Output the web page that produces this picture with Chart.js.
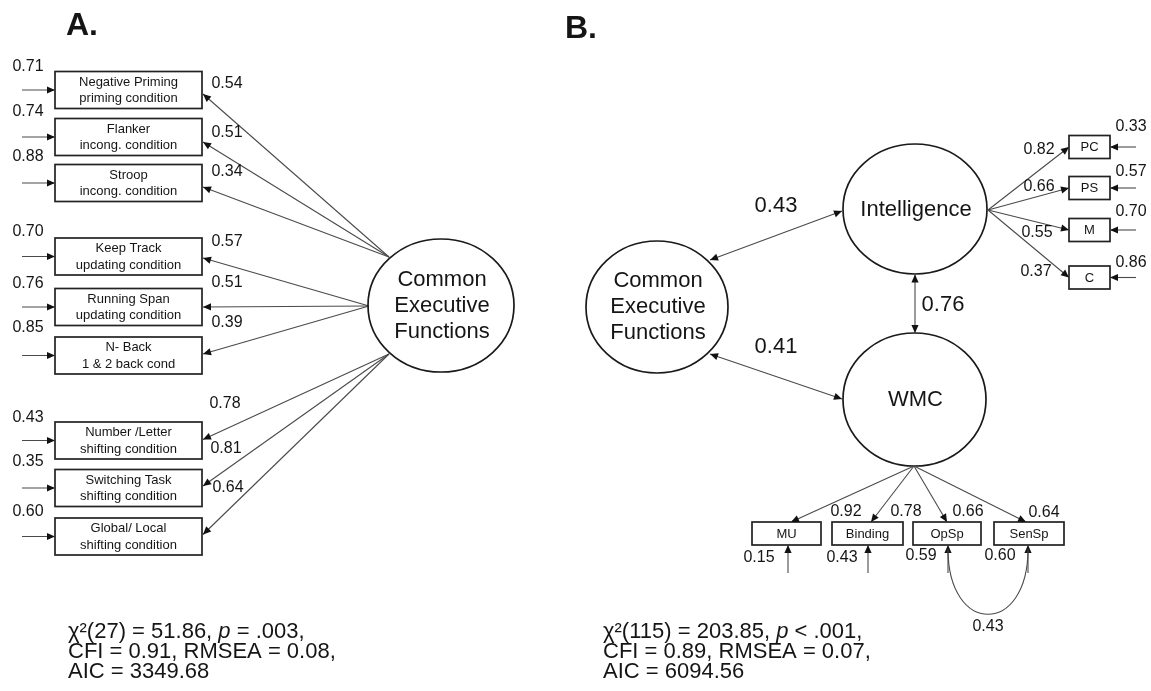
<!DOCTYPE html>
<html>
<head>
<meta charset="utf-8">
<script src="https://cdn.jsdelivr.net/npm/chart.js@4/dist/chart.umd.min.js"></script>
<style>
  html, body { margin: 0; padding: 0; background: #fff; overflow: hidden; }
  #wrap { width: 1151px; height: 691px; }
  canvas { display: block; }
</style>
</head>
<body>
<div id="wrap"><canvas id="sem" width="1151" height="691"></canvas></div>
<script>
// ---- Model A: single common executive functions factor ----
const taskNames = ['Negative Priming', 'Flanker', 'Stroop', 'Keep Track', 'Running Span',
                   'N- Back', 'Number /Letter', 'Switching Task', 'Global/ Local'];
const taskConditions = ['priming condition', 'incong. condition', 'incong. condition',
                        'updating condition', 'updating condition', '1 & 2 back cond',
                        'shifting condition', 'shifting condition', 'shifting condition'];
const taskLoadings = [0.54, 0.51, 0.34, 0.57, 0.51, 0.39, 0.78, 0.81, 0.64];
const taskErrors   = [0.71, 0.74, 0.88, 0.70, 0.76, 0.85, 0.43, 0.35, 0.60];
const fitLinesA = [['χ²(27) = 51.86, ', 'p', ' = .003,'], ['CFI = 0.91, RMSEA = 0.08,'], ['AIC = 3349.68']];

// ---- Model B: CEF, intelligence and working memory capacity ----
const latentNames = ['Common\nExecutive\nFunctions', 'Intelligence', 'WMC'];
const latentCorrelations = [0.43, 0.41, 0.76]; // CEF–Intelligence, CEF–WMC, Intelligence–WMC
const intelligenceIndicators = ['PC', 'PS', 'M', 'C'];
const intelligenceLoadings = [0.82, 0.66, 0.55, 0.37];
const intelligenceErrors   = [0.33, 0.57, 0.70, 0.86];
const wmcIndicators = ['MU', 'Binding', 'OpSp', 'SenSp'];
const wmcLoadings = [0.92, 0.78, 0.66, 0.64];
const wmcErrors   = [0.15, 0.43, 0.59, 0.60];
const residualCovariance = 0.43; // OpSp with SenSp
const fitLinesB = [['χ²(115) = 203.85, ', 'p', ' < .001,'], ['CFI = 0.89, RMSEA = 0.07,'], ['AIC = 6094.56']];

// ---- Layout (drawing frame units: 1151 x 691, y downward) ----
const FONT = '"Liberation Sans", Arial, Helvetica, sans-serif';
const INK = '#151515';
const PATH = '#4a4a4a';

const taskBox = { x0: 55, x1: 202, h: 37 };
const taskCenterY = [90, 137, 183, 256.5, 307, 355.5, 440.5, 488, 536.5];
const taskHeadDy = [4, 5, 4, 1.5, 0, -1.5, -1, -2, -2];
const taskGroup = [0, 0, 0, 1, 1, 1, 2, 2, 2];
const cefAnchorsA = [[389, 257], [369, 306], [389, 354]];
const taskLoadingPos = [[227, 84], [227, 133], [227, 172], [227, 242], [227, 283], [227, 323],
                        [225, 404], [226, 449], [228, 488]];
const taskErrorLabelY = [67, 112, 157, 232, 284, 328, 418, 462, 512];

const ellCefA  = [441, 305.5, 73, 66.5, 0];
const ellCefB  = [657, 307, 71, 66, 0];
const ellIntel = [915, 209, 72, 65, 1];
const ellWmc   = [914.5, 399.5, 71.5, 66.5, 0];

const intelBox = { x0: 1069, x1: 1110, h: 23 };
const intelCenterY = [147, 188, 230, 277.5];
const intelLoadingPos = [[1039, 150], [1039, 187], [1037, 233], [1036, 272]];
const intelErrorPos = [[1131, 127], [1131, 172], [1131, 212], [1131, 263]];

const wmcBox = { y0: 522, y1: 545 };
const wmcBoxX = [[752, 821], [832, 903], [913, 981], [994, 1064]];
const wmcHeadX = [791, 871, 947, 1026];
const wmcErrX = [788, 868, 948, 1028];
const wmcLoadingPos = [[846, 512], [906, 512], [968, 512], [1044, 513]];
const wmcErrorPos = [[759, 558], [842, 558], [921, 556], [1000, 556]];

const semDiagram = {
  id: 'semDiagram',
  afterDraw(chart) {
    const { ctx, scales } = chart;
    const X = v => scales.x.getPixelForValue(v);
    const Y = v => scales.y.getPixelForValue(v);
    const fmt = v => v.toFixed(2);

    const text = (s, x, y, size, opt = {}) => {
      ctx.save();
      ctx.font = `${opt.bold ? 'bold ' : ''}${size}px ${FONT}`;
      ctx.fillStyle = INK;
      ctx.textAlign = opt.align || 'center';
      ctx.textBaseline = 'middle';
      ctx.fillText(s, X(x), Y(y));
      ctx.restore();
    };

    const head = (x1, y1, x2, y2) => {
      const a = Math.atan2(Y(y2) - Y(y1), X(x2) - X(x1));
      const L = 8, w = 3.6;
      ctx.save();
      ctx.fillStyle = '#111';
      ctx.beginPath();
      ctx.moveTo(X(x2), Y(y2));
      ctx.lineTo(X(x2) - L * Math.cos(a) + w * Math.sin(a), Y(y2) - L * Math.sin(a) - w * Math.cos(a));
      ctx.lineTo(X(x2) - L * Math.cos(a) - w * Math.sin(a), Y(y2) - L * Math.sin(a) + w * Math.cos(a));
      ctx.closePath();
      ctx.fill();
      ctx.restore();
    };

    const arrow = (x1, y1, x2, y2, both = false) => {
      ctx.save();
      ctx.strokeStyle = PATH;
      ctx.lineWidth = 1.1;
      ctx.beginPath();
      ctx.moveTo(X(x1), Y(y1));
      ctx.lineTo(X(x2), Y(y2));
      ctx.stroke();
      ctx.restore();
      head(x1, y1, x2, y2);
      if (both) head(x2, y2, x1, y1);
    };

    const rect = (x0, y0, x1, y1) => {
      ctx.save();
      ctx.strokeStyle = '#222';
      ctx.lineWidth = 1.7;
      ctx.strokeRect(X(x0), Y(y0), X(x1) - X(x0), Y(y1) - Y(y0));
      ctx.restore();
    };

    const ellipse = ([cx, cy, rx, ry, dy], label, size) => {
      ctx.save();
      ctx.strokeStyle = '#1a1a1a';
      ctx.lineWidth = 1.7;
      ctx.beginPath();
      ctx.ellipse(X(cx), Y(cy), Math.abs(X(cx + rx) - X(cx)), Math.abs(Y(cy + ry) - Y(cy)), 0, 0, Math.PI * 2);
      ctx.stroke();
      ctx.restore();
      const lines = label.split('\n');
      const lh = 26;
      lines.forEach((ln, i) => text(ln, cx + 1, cy + dy + (i - (lines.length - 1) / 2) * lh, size));
    };

    // fit statistics: odd segments are italic
    const fitBlock = (lines, x, y0) => {
      ctx.save();
      ctx.fillStyle = INK;
      ctx.textBaseline = 'middle';
      ctx.textAlign = 'left';
      lines.forEach((segs, i) => {
        let cx = X(x);
        segs.forEach((s, j) => {
          ctx.font = `${j % 2 ? 'italic ' : ''}22px ${FONT}`;
          ctx.fillText(s, cx, Y(y0 + i * 20));
          cx += ctx.measureText(s).width;
        });
      });
      ctx.restore();
    };

    // Panel titles
    text('A.', 82, 26, 32, { bold: true });
    text('B.', 581, 29, 32, { bold: true });

    // ---- Model A ----
    taskNames.forEach((name, i) => {
      const cy = taskCenterY[i];
      rect(taskBox.x0, cy - taskBox.h / 2, taskBox.x1, cy + taskBox.h / 2);
      text(name, (taskBox.x0 + taskBox.x1) / 2, cy - 8, 13);
      text(taskConditions[i], (taskBox.x0 + taskBox.x1) / 2, cy + 8.5, 13);
      // residual
      arrow(22, cy, taskBox.x0, cy);
      text(fmt(taskErrors[i]), 28, taskErrorLabelY[i], 16);
      // loading
      const [ax, ay] = cefAnchorsA[taskGroup[i]];
      arrow(ax, ay, taskBox.x1 + 1, cy + taskHeadDy[i]);
      text(fmt(taskLoadings[i]), taskLoadingPos[i][0], taskLoadingPos[i][1], 16);
    });
    ellipse(ellCefA, latentNames[0], 22);
    fitBlock(fitLinesA, 68, 632);

    // ---- Model B ----
    ellipse(ellCefB, latentNames[0], 22);
    ellipse(ellIntel, latentNames[1], 22);
    ellipse(ellWmc, latentNames[2], 22);

    arrow(710, 260, 842, 211, true);
    text(fmt(latentCorrelations[0]), 776, 206, 22);
    arrow(710, 354, 842, 399, true);
    text(fmt(latentCorrelations[1]), 776, 347, 22);
    arrow(915, 274.5, 915, 333, true);
    text(fmt(latentCorrelations[2]), 943, 305, 22);

    intelligenceIndicators.forEach((name, i) => {
      const cy = intelCenterY[i];
      rect(intelBox.x0, cy - intelBox.h / 2, intelBox.x1, cy + intelBox.h / 2);
      text(name, (intelBox.x0 + intelBox.x1) / 2, cy + 0.5, 13);
      arrow(988, 210, intelBox.x0, cy);
      text(fmt(intelligenceLoadings[i]), intelLoadingPos[i][0], intelLoadingPos[i][1], 16);
      arrow(1136, cy, intelBox.x1, cy);
      text(fmt(intelligenceErrors[i]), intelErrorPos[i][0], intelErrorPos[i][1], 16);
    });

    wmcIndicators.forEach((name, i) => {
      const [x0, x1] = wmcBoxX[i];
      rect(x0, wmcBox.y0, x1, wmcBox.y1);
      text(name, (x0 + x1) / 2, (wmcBox.y0 + wmcBox.y1) / 2 + 0.5, 13);
      arrow(914, 466, wmcHeadX[i], wmcBox.y0);
      text(fmt(wmcLoadings[i]), wmcLoadingPos[i][0], wmcLoadingPos[i][1], 16);
      arrow(wmcErrX[i], 573, wmcErrX[i], wmcBox.y1);
      text(fmt(wmcErrors[i]), wmcErrorPos[i][0], wmcErrorPos[i][1], 16);
    });

    // correlated residuals of OpSp and SenSp
    ctx.save();
    ctx.strokeStyle = PATH;
    ctx.lineWidth = 1.1;
    ctx.beginPath();
    ctx.moveTo(X(wmcErrX[2]), Y(wmcBox.y1 + 4));
    ctx.bezierCurveTo(X(wmcErrX[2]), Y(636), X(wmcErrX[3]), Y(636), X(wmcErrX[3]), Y(wmcBox.y1 + 4));
    ctx.stroke();
    ctx.restore();
    text(fmt(residualCovariance), 988, 627, 16);

    fitBlock(fitLinesB, 603, 632);
  }
};

new Chart(document.getElementById('sem'), {
  type: 'scatter',
  data: { datasets: [{ data: [], pointRadius: 0 }] },
  options: {
    responsive: false,
    maintainAspectRatio: false,
    animation: false,
    events: [],
    layout: { padding: 0 },
    plugins: { legend: { display: false }, tooltip: { enabled: false } },
    scales: {
      x: { type: 'linear', min: 0, max: 1151, display: false },
      y: { type: 'linear', min: 0, max: 691, reverse: true, display: false }
    }
  },
  plugins: [semDiagram]
});
</script>
</body>
</html>
